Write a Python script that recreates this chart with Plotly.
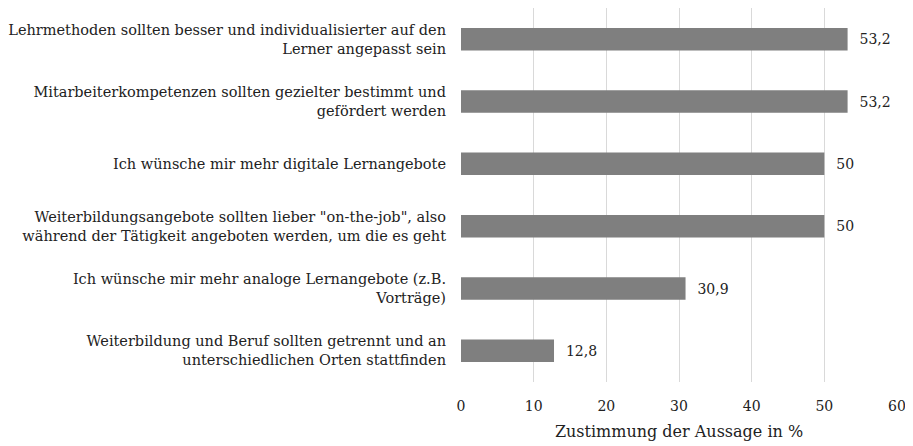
import plotly.graph_objects as go

categories = [
    "Lehrmethoden sollten besser und individualisierter auf den<br>Lerner angepasst sein",
    "Mitarbeiterkompetenzen sollten gezielter bestimmt und<br>gefördert werden",
    "Ich wünsche mir mehr digitale Lernangebote",
    "Weiterbildungsangebote sollten lieber \"on-the-job\", also<br>während der Tätigkeit angeboten werden, um die es geht",
    "Ich wünsche mir mehr analoge Lernangebote (z.B.<br>Vorträge)",
    "Weiterbildung und Beruf sollten getrennt und an<br>unterschiedlichen Orten stattfinden",
]
values = [53.2, 53.2, 50, 50, 30.9, 12.8]
value_labels = ["53,2", "53,2", "50", "50", "30,9", "12,8"]
x_ticks = [0, 10, 20, 30, 40, 50, 60]

FONT = "DejaVu Serif"

fig = go.Figure(go.Bar(
    y=categories, x=values, orientation="h",
    marker=dict(color="#7f7f7f", line=dict(width=0)),
    text=value_labels, texttemplate="  %{text}", textposition="outside", cliponaxis=False,
    textfont=dict(family=FONT, size=14, color="#222"),
    width=0.36,
))
fig.update_layout(
    width=905, height=438,
    margin=dict(l=453, r=16, t=0, b=64, autoexpand=False),
    paper_bgcolor="white", plot_bgcolor="white",
    font=dict(family=FONT, size=14, color="#222"),
    showlegend=False,
    xaxis=dict(range=[0, 60], tickvals=x_ticks, showgrid=True, gridcolor="#d9d9d9", gridwidth=1,
               zeroline=False, showline=False, ticks="", ticklabeloverflow="allow",
               ticklabelstandoff=14,
               tickfont=dict(family=FONT, size=14),
               title=dict(text="Zustimmung der Aussage in %", font=dict(family=FONT, size=16), standoff=12)),
    yaxis=dict(autorange="reversed", showgrid=False, zeroline=False, showline=False, ticks="",
               tickfont=dict(family=FONT, size=14.5), ticklabelstandoff=14),
)
fig.write_html("out.html")
